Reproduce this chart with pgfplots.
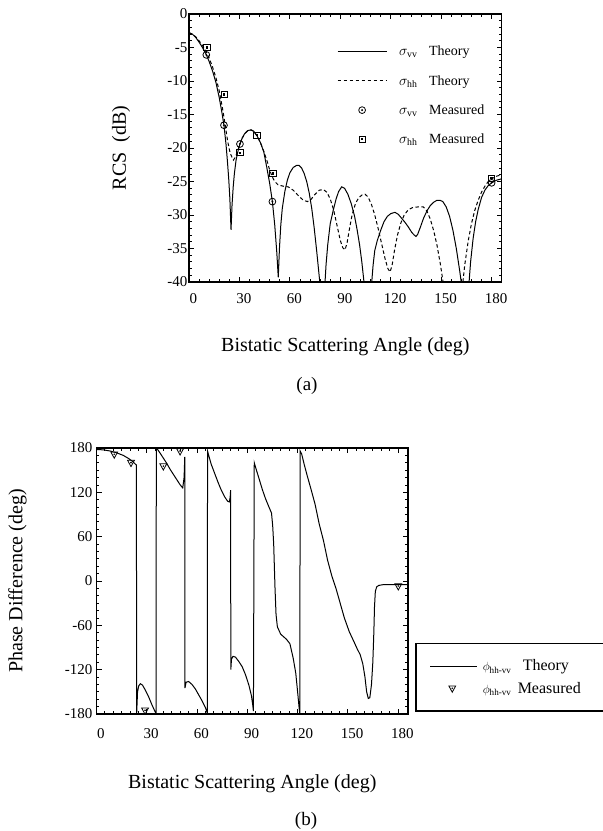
\documentclass[border=0pt]{standalone}
\usepackage{amsmath}
\usepackage{fontspec}
\setmainfont{Liberation Serif}
\usepackage{pgfplots}
\pgfplotsset{compat=1.18}

\pgfdeclareplotmark{odot}{%
  \pgfpathcircle{\pgfpointorigin}{\pgfplotmarksize}\pgfusepathqstroke
  \pgfpathcircle{\pgfpointorigin}{0.3\pgfplotmarksize}\pgfusepathqfill}
\pgfdeclareplotmark{sqdot}{%
  \pgfpathrectangle{\pgfpoint{-\pgfplotmarksize}{-\pgfplotmarksize}}{\pgfpoint{2\pgfplotmarksize}{2\pgfplotmarksize}}\pgfusepathqstroke
  \pgfpathrectangle{\pgfpoint{-0.35\pgfplotmarksize}{-0.35\pgfplotmarksize}}{\pgfpoint{0.7\pgfplotmarksize}{0.7\pgfplotmarksize}}\pgfusepathqfill}
\pgfdeclareplotmark{tridot}{%
  \pgfpathmoveto{\pgfpoint{0pt}{-\pgfplotmarksize}}
  \pgfpathlineto{\pgfpoint{0.95\pgfplotmarksize}{0.75\pgfplotmarksize}}
  \pgfpathlineto{\pgfpoint{-0.95\pgfplotmarksize}{0.75\pgfplotmarksize}}
  \pgfpathclose\pgfusepathqstroke
  \pgfpathcircle{\pgfpoint{0pt}{0.1\pgfplotmarksize}}{0.25\pgfplotmarksize}\pgfusepathqfill}

\pgfplotsset{
  linelegA/.style={legend image code/.code={\draw[##1] (0pt,0pt) -- (49pt,0pt);}},
  marklegA/.style={legend image code/.code={\draw[mark repeat=2,mark phase=2,##1] plot coordinates {(0pt,0pt) (24.5pt,0pt) (49pt,0pt)};}},
  linelegB/.style={legend image code/.code={\draw[##1] (0pt,0pt) -- (47pt,0pt);}},
  marklegB/.style={legend image code/.code={\draw[mark repeat=2,mark phase=2,##1] plot coordinates {(0pt,0pt) (22pt,0pt) (47pt,0pt)};}},
}

\pgfplotstableread{
x y
0 -2.8
2 -3.0
4 -3.5
6 -4.2
8 -5.0
10 -5.9
12 -7.1
14 -8.5
16 -10.2
18 -12.5
19.5 -14.6
20.8 -16.6
22 -19.4
22.8 -21.8
23.6 -24.5
24.3 -27.5
25 -32.2
25.6 -28.5
26.3 -25.8
27 -23.8
28 -21.8
29.2 -20.4
30.3 -19.4
31.5 -18.6
33 -17.9
35 -17.4
36.9 -17.3
38.5 -17.5
40.5 -18.2
42.5 -19.2
44.5 -20.6
46.2 -22.8
48 -25.3
49.6 -28.0
51 -31.5
52.2 -35.5
53.1 -39.3
53.8 -35
54.6 -31.5
55.5 -29
57 -26.5
58.5 -24.8
60 -23.7
62 -22.9
64 -22.6
65.5 -22.6
67 -23.0
68.5 -23.8
70 -25.0
71.5 -26.7
73 -29.0
74.5 -32
76 -35.5
77.2 -38.5
78 -40.5
79.4 -47
80.8 -40.5
81.5 -37.5
82.5 -34.5
84 -31.3
85.8 -29.3
87.5 -27.6
89 -26.5
90.8 -25.8
92.5 -26.0
94.5 -26.9
96.5 -28.3
98.5 -30.2
100 -32.2
101.5 -34.5
102.8 -37.0
104 -39.8
105 -43
106.4 -48
107.8 -43
108.7 -40
109.5 -37.5
110.5 -35.3
112 -33.8
114 -32.3
116 -31.0
118 -30.2
120 -29.8
122.5 -29.6
124.5 -29.9
126.5 -30.5
128.5 -31.1
130.5 -31.8
132.5 -32.6
134 -33.0
135 -33.2
136 -32.9
137.5 -31.9
139.5 -30.5
141.5 -29.4
143.5 -28.6
145.5 -28.1
147.5 -27.8
149.3 -27.8
151 -28.0
153 -28.8
155 -30.2
157 -32.3
159 -35.0
161 -38.3
162.2 -40.5
164 -47
165.8 -42
166.6 -40
167.5 -37
169 -33.5
170.5 -31
172 -29.2
174 -27.4
176 -26.3
178 -25.6
180 -25.2
183 -24.8
186 -24.6
}\vvtheory

\pgfplotstableread{
x y
0 -2.8
2 -3.0
4 -3.4
6 -4.0
8 -4.7
10 -5.5
12 -6.6
14 -7.9
16 -9.5
18 -11.5
20 -14.2
21.5 -16.5
23 -19.0
24.5 -20.8
26.4 -21.8
27.5 -21.4
28.5 -20.8
29.5 -20.0
30.5 -19.3
31.5 -18.6
33 -17.9
35 -17.4
36.9 -17.3
38.5 -17.5
40.5 -18.2
42.5 -19.2
44.5 -20.5
46.5 -22.0
48 -23.3
49.5 -24.3
51 -25.0
53 -25.5
56 -25.7
59 -25.8
62 -26.3
65 -27.1
68 -27.8
70.5 -28.0
72.5 -27.7
75 -26.9
77.5 -26.3
79.9 -26.2
82 -26.6
84 -27.6
86 -29.2
88 -31.5
90 -33.8
91.5 -34.9
92.8 -35.2
94 -34.2
95.5 -32.0
97 -30.0
99 -28.3
101 -27.4
103 -27.0
104.7 -26.9
106.5 -27.3
108.5 -28.4
110.5 -30.0
112.5 -32.0
114.5 -34.2
116.5 -36.4
118.3 -38.0
119.6 -38.5
120.8 -37.5
122.3 -35.2
124 -33.0
126 -31.2
128 -30.0
130.5 -29.2
133 -28.9
136 -28.8
139.4 -28.8
141.5 -29.4
143.5 -30.6
145.5 -32.3
147.5 -34.5
149.5 -37.3
151 -39.8
152.5 -43
156.5 -50
160.5 -45
162.5 -41
164 -37.5
166 -34
168 -31.3
170 -29.3
172 -27.8
174 -26.6
176 -25.7
178 -25.0
180 -24.6
183 -24.2
186 -24.0
}\hhtheory

\pgfplotstableread{
x y
10.3 -6.1
20.8 -16.6
30.3 -19.4
49.6 -28.0
180 -25.2
}\vvmeas

\pgfplotstableread{
x y
10.6 -5.0
21 -12.0
30.3 -20.7
40.3 -18.1
49.8 -23.8
180 -24.5
}\hhmeas

\pgfplotstableread{
x y
0 178
4 177.5
8 176
12 173.5
16 170
19 166
21.5 162
23.3 158
23.8 157
24.0 -179
24.5 -150
25.2 -142
26.2 -139
27.5 -141
29 -147
31 -156
33 -167
35 -177
35.6 -180
35.7 180
36.5 178
38 173
40 166
42 159
44 151
46 144
48 137
50 130
51.5 126
52.3 140
52.7 168
52.8 -145
53.5 -137
55 -136
57 -140
59 -146
61 -154
63 -162
65 -171
66.2 -179
66.3 176
67 170
68.5 158
70.5 146
72.5 134
74.5 123
76.5 114
78.3 108
79.3 107
79.8 113
80.1 123
80.2 -120
80.6 -106
81.5 -102
83 -103
85 -109
87 -116
89 -127
91 -141
92.5 -155
93.3 -168
93.7 -176
94.2 160
95.5 150
97 139
99 124
101 111
103 100
104.5 92
105.2 75
105.8 50
106.6 -10
107.2 -45
108 -62
110 -72
113.5 -79
115.5 -85
117.5 -105
119 -125
120.3 -155
121 -172
121.4 -180
121.6 176
122.5 172
124 158
126 141
128 125
130.5 104
133 77
135.5 55
138 28
140.5 7
143 -10
145.5 -30
148 -50
151 -69
153.5 -81
155.5 -91
157.5 -100
159 -112
160.3 -130
161.3 -150
162.3 -159
163.2 -158
164.2 -140
165 -110
165.6 -70
166 -35
166.5 -14
167.3 -8
168.5 -6
171 -5
180 -5
186 -5
}\phtheory

\pgfplotstableread{
x y
10.6 171
20.6 159.7
29 -175.5
39.9 155
49.9 175.4
180.2 -7.3
}\phmeas

\begin{document}
\begin{tikzpicture}[x=1pt,y=1pt]
\useasboundingbox (0pt,0pt) rectangle (603pt,831pt);

\pgfplotsset{
  every axis/.append style={
    scale only axis,
    tick align=inside,
    major tick length=5pt, minor tick length=2.7pt,
    axis line style={line width=1.2pt},
    every tick/.style={black, line width=0.8pt},
    tick label style={font=\fontsize{15}{18}\selectfont},
    /pgf/number format/assume math mode=true,
    label style={font=\fontsize{20}{24}\selectfont},
    legend cell align=left,
  },
}

% ---------- (a) ----------
\begin{axis}[
  at={(189pt,549pt)}, anchor=south west,
  width=312.7pt, height=268pt,
  xmin=0, xmax=186, ymin=-40, ymax=0,
  xtick={0,30,...,180}, ytick={-40,-35,...,0},
  minor x tick num=4, minor y tick num=4,
  xticklabel style={xshift=4.5pt, yshift=-8pt},
  yticklabel style={inner xsep=1.5pt},
  xlabel={Bistatic Scattering Angle (deg)},
  ylabel={RCS~~(dB)},
  xlabel style={at={(axis description cs:0.5,-0.2425)}, anchor=center},
  ylabel style={at={(axis description cs:-0.2175,0.5)}, anchor=center},
  legend style={at={(0.473,0.881)}, anchor=north west, draw=none, fill=none,
    font=\fontsize{14}{17}\selectfont, row sep=18pt, inner sep=0pt,
    nodes={inner xsep=6pt, inner ysep=0pt},
    /tikz/every odd column/.append style={column sep=6pt}},
]
\addplot[black, line width=1pt, linelegA] table {\vvtheory};
\addlegendentry{\makebox[30pt][l]{$\sigma_{\text{vv}}$}Theory}
\addplot[black, line width=1pt, dash pattern=on 3.5pt off 2.5pt, linelegA] table {\hhtheory};
\addlegendentry{\makebox[30pt][l]{$\sigma_{\text{hh}}$}Theory}
\addplot[black, only marks, mark=odot, mark size=3.4pt, line width=0.8pt, marklegA] table {\vvmeas};
\addlegendentry{\makebox[30pt][l]{$\sigma_{\text{vv}}$}Measured}
\addplot[black, only marks, mark=sqdot, mark size=3.2pt, line width=0.8pt, marklegA] table {\hhmeas};
\addlegendentry{\makebox[30pt][l]{$\sigma_{\text{hh}}$}Measured}
\end{axis}

\node[font=\fontsize{19}{22}\selectfont] at (307pt,445pt) {(a)};

% ---------- (b) ----------
\begin{axis}[
  at={(96.5pt,117pt)}, anchor=south west,
  width=311.5pt, height=266pt,
  xmin=0, xmax=186, ymin=-180, ymax=180,
  xtick={0,30,...,180}, ytick={-180,-120,...,180},
  minor x tick num=5, minor y tick num=5,
  xticklabel style={xshift=4.5pt, yshift=-11pt},
  yticklabel style={inner xsep=4pt},
  xlabel={Bistatic Scattering Angle (deg)},
  ylabel={Phase Difference (deg)},
  xlabel style={at={(axis description cs:0.5,-0.263)}, anchor=center},
  ylabel style={at={(axis description cs:-0.2536,0.5)}, anchor=center},
  legend style={at={(1.0225,0.267)}, anchor=north west, draw, line width=1.5pt, fill=white,
    font=\fontsize{16}{19}\selectfont, row sep=10pt, inner xsep=14pt, inner ysep=16pt,
    nodes={inner xsep=5pt, inner ysep=0pt}},
]
\addplot[black, line width=1pt, linelegB] table {\phtheory};
\addlegendentry{\makebox[180pt][l]{\makebox[40pt][l]{\fontsize{13}{16}\selectfont$\phi_{\text{hh-vv}}$}Theory}}
\addplot[black, only marks, mark=tridot, mark size=3.6pt, line width=0.8pt, marklegB] table {\phmeas};
\addlegendentry{\makebox[180pt][l]{\makebox[35pt][l]{\fontsize{13}{16}\selectfont$\phi_{\text{hh-vv}}$}Measured}}
\end{axis}

\node[font=\fontsize{19}{22}\selectfont] at (306pt,10pt) {(b)};
\end{tikzpicture}
\end{document}
